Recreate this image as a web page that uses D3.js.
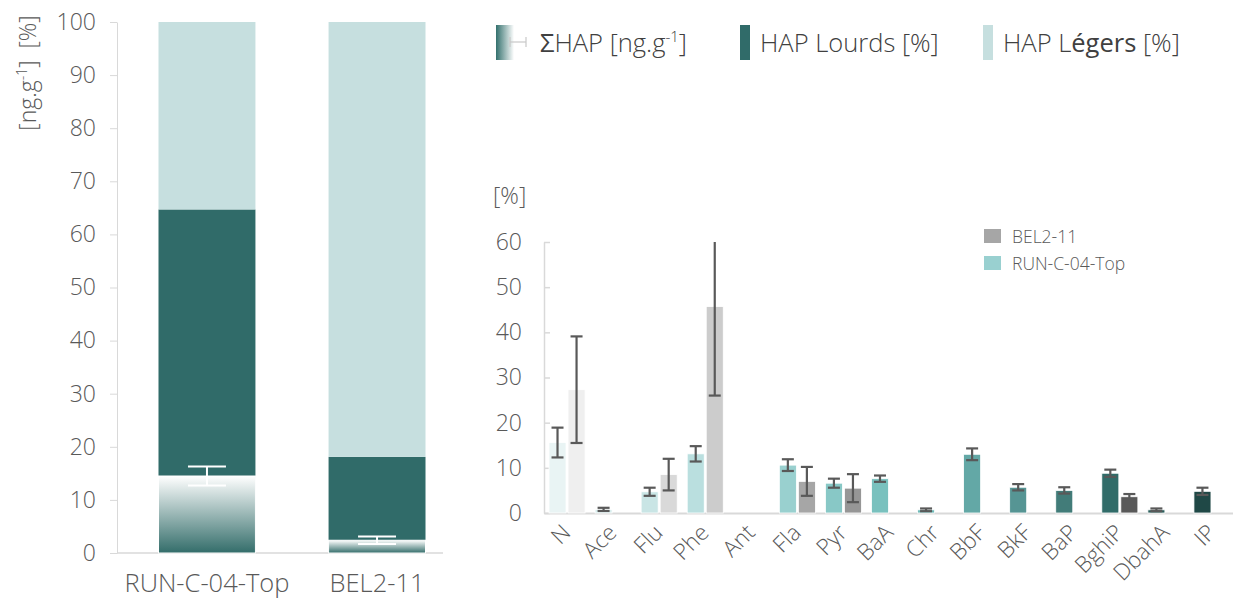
<!DOCTYPE html>
<html><head><meta charset="utf-8">
<script src="https://cdn.jsdelivr.net/npm/d3@7"></script>
<style>
html,body{margin:0;padding:0;background:#fff;}
svg{display:block;font-family:"Open Sans",sans-serif;font-weight:300;}
</style></head>
<body><svg id="c" width="1233" height="600"></svg>
<script>
// ---------- data ----------
const leftCategories = ["RUN-C-04-Top", "BEL2-11"];
const lourds = [64.7, 18.1];
const legers = [35.3, 81.9];
const sumHap = [14.5, 2.4];
const sumHapErr = [1.8, 0.7];
const leftTicks = [0,10,20,30,40,50,60,70,80,90,100];

const categories = ["N","Ace","Flu","Phe","Ant","Fla","Pyr","BaA","Chr","BbF","BkF","BaP","BghiP","DbahA","IP"];
const runVals = [15.6, 0.8, 4.7, 13.1, 0, 10.6, 6.6, 7.6, 0.7, 13.0, 5.7, 5.0, 8.8, 0.7, 4.8];
const runErr  = [3.3, 0.35, 0.9, 1.7, 0, 1.3, 1.0, 0.7, 0.3, 1.3, 0.7, 0.7, 0.8, 0.3, 0.8];
const belVals = [27.3, 0, 8.5, 45.7, 0, 7.0, 5.5, 0, 0, 0, 0, 0, 3.6, 0, 0];
const belErr  = [11.8, 0, 3.5, 19.7, 0, 3.2, 3.1, 0, 0, 0, 0, 0, 0.6, 0, 0];
const runColors = ["#e9f4f4","#d8eded","#c9e5e5","#badfdf","#aad8d8","#99d0cf","#88c8c6","#79c1be","#6ebab8","#63a8a6","#569594","#427c79","#316c69","#2b5f5d","#1f4846"];
const belColors = ["#efefef","#e2e2e2","#d9d9d9","#cccccc","#bfbfbf","#a6a6a6","#969696","#8a8a8a","#7f7f7f","#747474","#6a6a6a","#606060","#595959","#505050","#474747"];
const rightTicks = [0,10,20,30,40,50,60];
const seriesNames = ["RUN-C-04-Top","BEL2-11"];

const colLourds = "#306b69", colLegers = "#c6dfdf";
const txt = "#595959", axisCol = "#d9d9d9";

const svg = d3.select("#c");
const defs = svg.append("defs");
const gv = defs.append("linearGradient").attr("id","gv").attr("x1",0).attr("y1",0).attr("x2",0).attr("y2",1);
gv.append("stop").attr("offset","0%").attr("stop-color","#ffffff");
gv.append("stop").attr("offset","100%").attr("stop-color","#336d6a");
const gh = defs.append("linearGradient").attr("id","gh").attr("x1",0).attr("y1",0).attr("x2",1).attr("y2",0);
gh.append("stop").attr("offset","0%").attr("stop-color","#33706d");
gh.append("stop").attr("offset","100%").attr("stop-color","#ffffff");

// ---------- left chart ----------
const yL = d3.scaleLinear().domain([0,100]).range([553,22]);
const xL = d3.scaleBand().domain(leftCategories).range([117,467]).paddingInner(0.43).paddingOuter(0.244);

const gLA = svg.append("g").attr("transform","translate(117,0)")
  .call(d3.axisLeft(yL).tickValues(leftTicks).tickSize(7).tickPadding(14).tickSizeOuter(0));
gLA.select(".domain").attr("stroke",axisCol);
gLA.selectAll(".tick line").attr("stroke",axisCol);
gLA.selectAll(".tick text").attr("fill",txt).style("font-size","23px").style("font-family","Open Sans").style("font-weight","300");

svg.append("line").attr("x1",117).attr("x2",443).attr("y1",yL(0)).attr("y2",yL(0)).attr("stroke",axisCol).attr("stroke-width",1.5);

const lg = svg.append("g");
lg.selectAll(".lr").data(leftCategories).join("rect")
  .attr("x",d=>xL(d)).attr("width",xL.bandwidth())
  .attr("y",(d,i)=>yL(lourds[i])).attr("height",(d,i)=>yL(0)-yL(lourds[i]))
  .attr("fill",colLourds);
lg.selectAll(".lg").data(leftCategories).join("rect")
  .attr("x",d=>xL(d)).attr("width",xL.bandwidth())
  .attr("y",(d,i)=>yL(lourds[i]+legers[i])).attr("height",(d,i)=>yL(lourds[i])-yL(lourds[i]+legers[i]))
  .attr("fill",colLegers);
lg.selectAll(".sh").data(leftCategories).join("rect")
  .attr("x",d=>xL(d)).attr("width",xL.bandwidth())
  .attr("y",(d,i)=>yL(sumHap[i])).attr("height",(d,i)=>yL(0)-yL(sumHap[i]))
  .attr("fill","url(#gv)").attr("stroke","#fff").attr("stroke-width",1);
leftCategories.forEach((d,i)=>{
  const cx = xL(d)+xL.bandwidth()/2, hi = yL(sumHap[i]+sumHapErr[i]), lo = yL(sumHap[i]-sumHapErr[i]);
  const e = lg.append("g").attr("stroke","#fff").attr("stroke-width",2);
  e.append("line").attr("x1",cx).attr("x2",cx).attr("y1",hi).attr("y2",lo);
  e.append("line").attr("x1",cx-19).attr("x2",cx+19).attr("y1",hi).attr("y2",hi);
  e.append("line").attr("x1",cx-19).attr("x2",cx+19).attr("y1",lo).attr("y2",lo);
});
svg.append("g").selectAll("text").data(leftCategories).join("text")
  .attr("x",d=>xL(d)+xL.bandwidth()/2).attr("y",592).attr("text-anchor","middle")
  .attr("fill",txt).style("font-size","25.5px").text(d=>d);

const yt = svg.append("text").attr("transform","translate(36,73) rotate(-90)").attr("text-anchor","middle")
  .attr("fill",txt).style("font-size","23px");
yt.append("tspan").text("[ng.g");
yt.append("tspan").attr("dy",-9).style("font-size","14px").text("-1");
yt.append("tspan").attr("dy",9).text("]\u00a0\u00a0[%]");

// ---------- top legend ----------
const tl = svg.append("g");
tl.append("rect").attr("x",496).attr("y",25).attr("width",18).attr("height",35).attr("fill","url(#gh)");
const ic = tl.append("g").attr("stroke","#c8c8c8").attr("stroke-width",1.2);
ic.append("line").attr("x1",510).attr("x2",526).attr("y1",42).attr("y2",42);
ic.append("line").attr("x1",510).attr("x2",510).attr("y1",37).attr("y2",47);
ic.append("line").attr("x1",526).attr("x2",526).attr("y1",37).attr("y2",47);
const t1 = tl.append("text").attr("x",540).attr("y",52).attr("fill","#404040").style("font-size","25.5px");
t1.append("tspan").style("font-weight","400").text("Σ");
t1.append("tspan").text("HAP [ng.g");
t1.append("tspan").attr("dy",-10).style("font-size","15px").text("-1");
t1.append("tspan").attr("dy",10).text("]");
tl.append("rect").attr("x",740).attr("y",25).attr("width",10).attr("height",35).attr("fill",colLourds);
tl.append("text").attr("x",760).attr("y",52).attr("fill","#404040").style("font-size","25.5px").text("HAP Lourds [%]");
tl.append("rect").attr("x",983).attr("y",25).attr("width",10).attr("height",35).attr("fill",colLegers);
const t3 = tl.append("text").attr("x",1003).attr("y",52).attr("fill","#404040").style("font-size","25.5px");
t3.append("tspan").text("HAP L");
t3.append("tspan").style("font-weight","400").text("égers");
t3.append("tspan").text(" [%]");

// ---------- right chart ----------
const yR = d3.scaleLinear().domain([0,60]).range([513,242]);
const xR = d3.scaleBand().domain(categories).range([544,1235]);
const xS = d3.scaleBand().domain(seriesNames).range([0,xR.bandwidth()]).paddingInner(0.105).paddingOuter(0.263);

const gRA = svg.append("g").attr("transform","translate(544,0)")
  .call(d3.axisRight(yR).tickValues(rightTicks).tickSize(6).tickSizeOuter(0).tickFormat(d3.format("d")));
gRA.select(".domain").attr("stroke",axisCol).attr("stroke-width",1.5);
gRA.selectAll(".tick line").attr("stroke",axisCol).attr("stroke-width",1.5);
gRA.selectAll(".tick text").attr("x",-22).attr("text-anchor","end").attr("fill",txt)
  .style("font-size","23px").style("font-family","Open Sans").style("font-weight","300");
svg.append("text").attr("x",493).attr("y",204).attr("fill",txt).style("font-size","23px").text("[%]");

const gX = svg.append("g").attr("transform","translate(0,"+yR(0)+")")
  .call(d3.axisBottom(xR).tickSize(0).tickPadding(0));
gX.select(".domain").attr("stroke",axisCol).attr("stroke-width",2);
gX.selectAll(".tick text").attr("text-anchor","end").attr("fill",txt)
  .style("font-size","22.5px").style("font-family","Open Sans").style("font-weight","300")
  .attr("dy","0").attr("transform","translate(5,21) rotate(-45)");

const bars = svg.append("g");
function drawSeries(vals, errs, cols, name){
  categories.forEach((c,i)=>{
    if(!vals[i]) return;
    const x = xR(c)+xS(name), w = xS.bandwidth();
    bars.append("rect").attr("x",x).attr("width",w).attr("y",yR(vals[i])).attr("height",yR(0)-yR(vals[i]))
      .attr("fill",cols[i]).attr("stroke","#fff").attr("stroke-width",0.8);
  });
}
function drawErr(vals, errs, name){
  categories.forEach((c,i)=>{
    if(!vals[i]) return;
    const cx = xR(c)+xS(name)+xS.bandwidth()/2;
    const top = vals[i]+errs[i], bot = vals[i]-errs[i];
    const e = bars.append("g").attr("stroke","#595959").attr("stroke-width",2.2);
    e.append("line").attr("x1",cx).attr("x2",cx).attr("y1",yR(Math.min(top,60))).attr("y2",yR(bot));
    if(top<=60) e.append("line").attr("x1",cx-6).attr("x2",cx+6).attr("y1",yR(top)).attr("y2",yR(top));
    e.append("line").attr("x1",cx-6).attr("x2",cx+6).attr("y1",yR(bot)).attr("y2",yR(bot));
  });
}
drawSeries(runVals, runErr, runColors, "RUN-C-04-Top");
drawSeries(belVals, belErr, belColors, "BEL2-11");
drawErr(runVals, runErr, "RUN-C-04-Top");
drawErr(belVals, belErr, "BEL2-11");

// right legend
const rl = svg.append("g");
const legItems = [["BEL2-11","#a6a6a6"],["RUN-C-04-Top","#99d0d0"]];
legItems.forEach((d,i)=>{
  rl.append("rect").attr("x",984).attr("y",229+i*27).attr("width",17).attr("height",14).attr("fill",d[1]);
  rl.append("text").attr("x",1012).attr("y",243+i*27).attr("fill",txt).style("font-size","17.5px").text(d[0]);
});
</script></body></html>
